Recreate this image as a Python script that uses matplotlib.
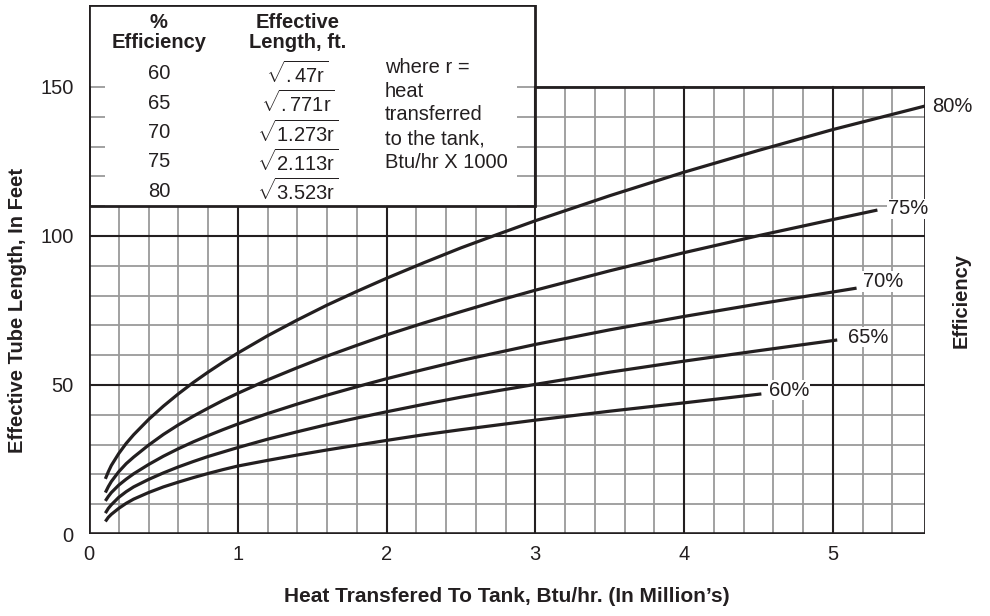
import matplotlib.pyplot as plt
from matplotlib.patches import Rectangle

plt.rcParams['font.family'] = ['Liberation Sans', 'DejaVu Sans']
plt.rcParams['mathtext.fontset'] = 'custom'
plt.rcParams['mathtext.rm'] = 'Liberation Sans'
plt.rcParams['mathtext.it'] = 'Liberation Sans'

ink = '#231f20'

# heat transferred (millions Btu/hr) and effective tube length (ft)
x_common = [0.11, 0.13, 0.15, 0.2, 0.25, 0.3, 0.4, 0.5, 0.6, 0.7, 0.8, 0.9, 1.0,
            1.2, 1.4, 1.6, 1.8, 2.0, 2.25, 2.5, 2.75, 3.0, 3.5, 4.0, 4.5]
x_80 = x_common + [5.0, 5.62]
y_80 = [18.5, 20.9, 23.0, 27.0, 30.4, 33.3, 38.4, 42.9, 47.0, 50.8, 54.3, 57.6, 60.7,
        66.5, 71.8, 76.8, 81.4, 85.8, 91.0, 96.0, 100.6, 105.1, 113.5, 121.4, 128.7, 135.7, 143.6]
x_75 = x_common + [5.0, 5.30]
y_75 = [13.9, 15.9, 17.6, 20.9, 23.6, 25.8, 29.8, 33.4, 36.6, 39.5, 42.2, 44.8, 47.2,
        51.7, 55.8, 59.7, 63.3, 66.8, 70.8, 74.6, 78.3, 81.8, 88.3, 94.4, 100.1, 105.5, 108.7]
x_70 = x_common + [5.0, 5.16]
y_70 = [11.1, 12.6, 13.9, 16.4, 18.4, 20.2, 23.3, 26.1, 28.6, 30.9, 33.0, 35.0, 36.9,
        40.4, 43.6, 46.6, 49.4, 52.1, 55.2, 58.2, 60.9, 63.6, 68.5, 73.0, 77.2, 81.2, 82.5]
x_65 = x_common + [5.03]
y_65 = [7.0, 8.6, 9.8, 12.3, 14.2, 15.8, 18.3, 20.5, 22.5, 24.3, 26.0, 27.5, 29.0,
        31.8, 34.3, 36.7, 38.9, 41.0, 43.5, 45.9, 48.1, 50.2, 54.3, 58.0, 61.5, 65.1]
x_60 = x_common[:-1] + [4.52]
y_60 = [4.2, 5.6, 6.6, 8.6, 10.3, 11.7, 13.9, 15.8, 17.4, 18.9, 20.3, 21.6, 22.8,
        24.7, 26.5, 28.2, 29.8, 31.4, 33.3, 35.0, 36.6, 38.2, 41.2, 44.0, 47.0]

curves = [(x_80, y_80, '80%'), (x_75, y_75, '75%'), (x_70, y_70, '70%'),
          (x_65, y_65, '65%'), (x_60, y_60, '60%')]

# table inside the box
efficiencies = ['60', '65', '70', '75', '80']
formulas = ['.47r', '.771r', '1.273r', '2.113r', '3.523r']
note_lines = ['where r =', 'heat', 'transferred', 'to the tank,', 'Btu/hr X 1000']

x_max = 5.62
y_top = 150

fig = plt.figure(figsize=(9.9, 6.16), dpi=100)
ax = fig.add_axes([89 / 990, 82 / 616, 836 / 990, 529 / 616])
ax.set_xlim(0, x_max)
ax.set_ylim(0, 177.5)
for s in ax.spines.values():
    s.set_visible(False)

# grid
for i in range(1, 28):
    xv = i * 0.2
    if i % 5 == 0:
        ax.plot([xv, xv], [0, y_top], color=ink, lw=1.5, zorder=2)
    else:
        ax.plot([xv, xv], [0, y_top], color='#9a9a9a', lw=1.3, zorder=1)
for yv in range(10, 151, 10):
    if yv in (50, 100):
        ax.plot([0, x_max], [yv, yv], color=ink, lw=1.5, zorder=2)
    else:
        ax.plot([0, x_max], [yv, yv], color='#9a9a9a', lw=1.3, zorder=1)

# frame
ax.plot([0, x_max], [0, 0], color=ink, lw=2.6, zorder=3)
ax.plot([0, 0], [0, y_top], color=ink, lw=2, zorder=3)
ax.plot([x_max, x_max], [0, y_top], color=ink, lw=2, zorder=3)
ax.plot([3, x_max], [y_top, y_top], color=ink, lw=2, zorder=3)

# table box
ax.add_patch(Rectangle((0.11, 110), 2.77, 67.5, facecolor='white', edgecolor='none', zorder=4))
ax.add_patch(Rectangle((0, 110), 3, 67.5, facecolor='none', edgecolor=ink, lw=2, zorder=5))

fs = 14.5
ax.text(0.47, 171.5, '%', ha='center', va='center', fontsize=fs, fontweight='bold', color=ink, zorder=6)
ax.text(0.47, 164.8, 'Efficiency', ha='center', va='center', fontsize=fs, fontweight='bold', color=ink, zorder=6)
ax.text(1.40, 171.5, 'Effective', ha='center', va='center', fontsize=fs, fontweight='bold', color=ink, zorder=6)
ax.text(1.40, 164.8, 'Length, ft.', ha='center', va='center', fontsize=fs, fontweight='bold', color=ink, zorder=6)
for i, (e, f) in enumerate(zip(efficiencies, formulas)):
    yy = 154.4 - i * 9.85
    ax.text(0.47, yy, e, ha='center', va='center', fontsize=fs, color=ink, zorder=6)
    ax.text(1.40, yy, r'$\sqrt{' + f + '}$', ha='center', va='center', fontsize=fs, color=ink, zorder=6)
for i, line in enumerate(note_lines):
    ax.text(1.99, 156.4 - i * 7.9, line, ha='left', va='center', fontsize=fs, color=ink, zorder=6)

# curves and their labels
label_pos = {'80%': (5.67, 143.3), '75%': (5.37, 109.1), '70%': (5.20, 84.7),
             '65%': (5.10, 66.0), '60%': (4.57, 48.3)}
for xs, ys, name in curves:
    ax.plot(xs, ys, color=ink, lw=2.3, zorder=7, solid_capstyle='butt')
    lx, ly = label_pos[name]
    ax.text(lx, ly, name, ha='left', va='center', fontsize=fs, color=ink, zorder=8,
            bbox=dict(facecolor='white', edgecolor='none', pad=0.5), clip_on=False)

# ticks
ax.set_xticks([0, 1, 2, 3, 4, 5])
ax.set_yticks([0, 50, 100, 150])
ax.tick_params(length=0, labelsize=fs, colors=ink)
ax.tick_params(axis='y', pad=11)
ax.tick_params(axis='x', pad=8)

# axis titles
ax.text(-0.478, 75, 'Effective Tube Length, In Feet', rotation=90, ha='center', va='center',
        fontsize=fs, fontweight='bold', color=ink, clip_on=False)
ax.text(5.86, 78.5, 'Efficiency', rotation=90, ha='center', va='center',
        fontsize=fs, fontweight='bold', color=ink, clip_on=False)
ax.text(2.81, -21.1, 'Heat Transfered To Tank, Btu/hr. (In Million\u2019s)', ha='center', va='center',
        fontsize=15, fontweight='bold', color=ink, clip_on=False)

fig.savefig('out.png', dpi=100)
